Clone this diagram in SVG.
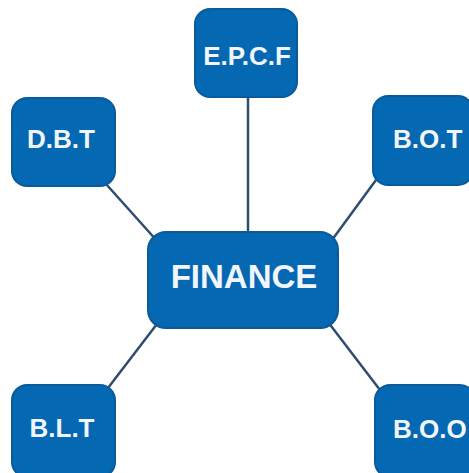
<svg xmlns="http://www.w3.org/2000/svg" width="469" height="473" viewBox="0 0 469 473">
<style>
.box{fill:#0468b3;stroke:#0b5a9a;stroke-width:2}
.t{font-family:"Liberation Sans",Arial,sans-serif;font-weight:bold;fill:#f2f6fb;text-anchor:middle}
.s{font-size:26px}
.c{stroke:#2f4d6e;stroke-width:2.5;fill:none}
</style>
<rect width="469" height="473" fill="#ffffff"/>
<g id="connectors">
<line class="c" x1="248" y1="96" x2="248" y2="234"/>
<line class="c" x1="106" y1="184" x2="158" y2="242"/>
<line class="c" x1="376" y1="180" x2="332" y2="240"/>
<line class="c" x1="108" y1="388" x2="160" y2="320"/>
<line class="c" x1="380" y1="390" x2="328" y2="322"/>
</g>
<g id="epcf"><rect class="box" x="195" y="9" width="102" height="88" rx="15"/><text class="t s" x="247" y="65">E.P.C.F</text></g>
<g id="dbt"><rect class="box" x="12" y="98" width="103" height="88" rx="15"/><text class="t s" x="61" y="148">D.B.T</text></g>
<g id="bot"><rect class="box" x="373" y="96" width="100" height="89" rx="15"/><text class="t s" x="393" y="148" style="text-anchor:start">B.O.T</text></g>
<g id="finance"><rect class="box" x="148" y="232" width="190" height="96" rx="18"/><text class="t" x="244" y="288" font-size="33">FINANCE</text></g>
<g id="blt"><rect class="box" x="12" y="385" width="103" height="92" rx="15"/><text class="t s" x="62" y="437">B.L.T</text></g>
<g id="boo"><rect class="box" x="375" y="385" width="100" height="92" rx="15"/><text class="t s" x="393" y="438" style="text-anchor:start">B.O.O</text></g>
</svg>
